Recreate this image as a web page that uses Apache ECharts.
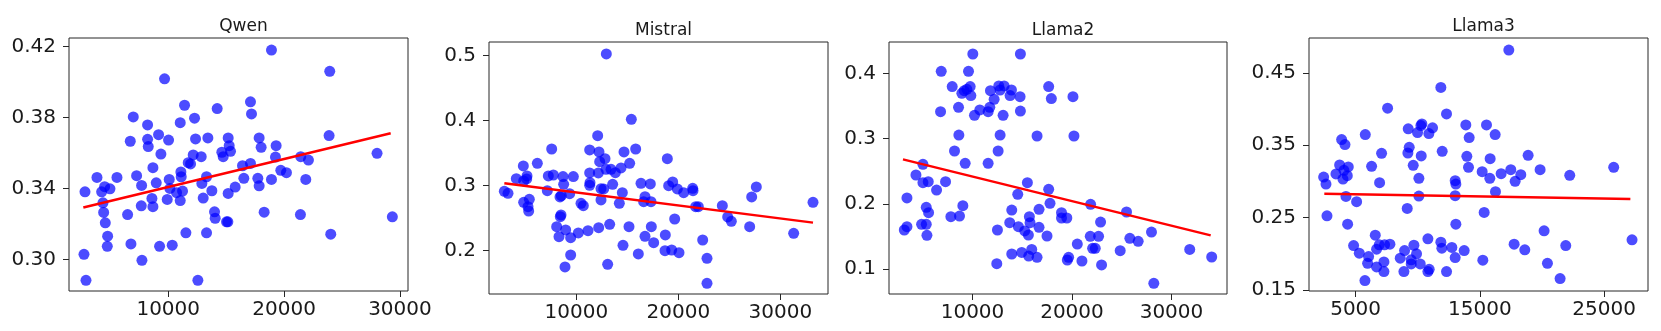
<!DOCTYPE html>
<html>
<head>
<meta charset="utf-8">
<script src="https://cdn.jsdelivr.net/npm/echarts@6/dist/echarts.min.js"></script>
<style>
html,body{margin:0;padding:0;background:#fff;}
#chart{width:1661px;height:331px;}
</style>
</head>
<body>
<div id="chart"></div>
<script>
// ---- Data ----
const titles = ["Qwen", "Mistral", "Llama2", "Llama3"];

const qwenX = [18911,23940,9685,17100,11410,14226,17187,6984,12272,11036,8220,9168,23883,6725,8220,10030,12358,13422,15175,17848,8277,15261,19313,18020,9369,14629,12157,12847,14744,15376,28022,21440,19256,22101,11726,11927,16411,17100,19716,20204,8679,11094,11122,13307,3851,5576,7271,16526,17733,18911,21871,10088,8967,12904,17848,15778,7702,4512,4972,4254,2817,10145,10720,11237,13766,15175,8593,9915,11036,13019,4368,7674,8679,4426,6495,13996,14054,18279,21411,29344,4570,15031,15146,4771,11525,13307,24027,4742,6783,9254,10346,2730,7731,2903,12559];
const qwenY = [0.4181,0.4061,0.4019,0.3889,0.3870,0.3851,0.3821,0.3804,0.3797,0.3772,0.3759,0.3704,0.3699,0.3667,0.3678,0.3674,0.3680,0.3686,0.3686,0.3686,0.3637,0.3642,0.3642,0.3633,0.3595,0.3605,0.3590,0.3580,0.3580,0.3610,0.3599,0.3580,0.3578,0.3561,0.3546,0.3539,0.3529,0.3542,0.3503,0.3490,0.3518,0.3494,0.3467,0.3467,0.3463,0.3463,0.3473,0.3458,0.3458,0.3452,0.3452,0.3452,0.3433,0.3429,0.3416,0.3409,0.3418,0.3411,0.3399,0.3382,0.3382,0.3401,0.3377,0.3386,0.3388,0.3373,0.3345,0.3339,0.3333,0.3347,0.3320,0.3303,0.3298,0.3266,0.3254,0.3269,0.3233,0.3267,0.3254,0.3241,0.3207,0.3213,0.3213,0.3132,0.3151,0.3151,0.3143,0.3075,0.3088,0.3075,0.3081,0.3030,0.2996,0.2883,0.2883];
const qwenTrendX = [2673, 29200];
const qwenTrendY = [0.3294, 0.3712];

const mistralX = [12941,15392,12092,7582,11307,15817,12222,14673,12810,18922,12288,15229,6177,4804,14379,12908,13399,13823,4117,5163,7255,7746,8693,9706,11307,12157,4837,5131,8758,11340,13562,16340,17255,19444,19052,19902,20523,21405,21438,27647,2941,3301,7157,11307,12418,12680,14510,8529,9346,8399,16732,27190,12418,14216,16601,17320,10458,10686,4837,5392,5261,5327,21699,21961,24314,33203,24837,25196,19641,8431,8497,13268,8072,8954,10196,11144,12190,15163,17353,26993,8301,9444,16732,17582,18725,22386,31307,14575,18693,19346,20065,16078,9444,13072,8889,22810,22810];
const mistralY = [0.5026,0.4021,0.3769,0.3564,0.3549,0.3564,0.3518,0.3518,0.3415,0.3415,0.3369,0.3344,0.3344,0.3303,0.3272,0.3251,0.3251,0.3200,0.3108,0.3149,0.3149,0.3164,0.3139,0.3139,0.3195,0.3195,0.3072,0.3103,0.3021,0.3046,0.3021,0.3036,0.3026,0.3056,0.3000,0.2949,0.2892,0.2959,0.2923,0.2980,0.2913,0.2882,0.2923,0.3005,0.2954,0.2949,0.2892,0.2846,0.2877,0.2826,0.2831,0.2826,0.2780,0.2728,0.2754,0.2754,0.2728,0.2692,0.2744,0.2790,0.2677,0.2610,0.2677,0.2677,0.2692,0.2744,0.2518,0.2451,0.2487,0.2523,0.2549,0.2405,0.2369,0.2318,0.2272,0.2308,0.2354,0.2369,0.2369,0.2369,0.2215,0.2200,0.2221,0.2123,0.2241,0.2164,0.2267,0.2082,0.2000,0.2010,0.1969,0.1949,0.1933,0.1790,0.1749,0.1882,0.1498];
const mistralTrendX = [2941, 33203];
const mistralTrendY = [0.3036, 0.2431];

const llama2X = [10033,14816,6857,9599,7960,9766,12642,13177,12776,11806,13913,9432,9164,8930,9833,13779,14782,12174,17658,17925,20099,8596,11739,10736,10201,11572,13077,14816,6790,8629,12776,16488,20199,8194,12575,9264,11572,5018,4315,5018,5553,7291,6389,15518,17658,14548,3412,17791,21871,25483,9030,5352,5586,13946,16688,7826,8696,15718,18948,18948,19483,22874,4883,5352,3145,3412,12508,13746,14615,15785,16688,15250,15618,5419,17490,21838,22674,27991,25817,26653,20534,22072,22339,24847,31836,13946,14949,15952,15651,16488,19664,19531,21002,34044,12441,22975,28225];
const llama2Y = [0.4296,0.4296,0.4031,0.4031,0.3796,0.3796,0.3806,0.3806,0.3744,0.3734,0.3744,0.3755,0.3734,0.3693,0.3658,0.3658,0.3642,0.3601,0.3796,0.3612,0.3642,0.3479,0.3479,0.3438,0.3356,0.3412,0.3356,0.3422,0.3412,0.3054,0.3054,0.3039,0.3039,0.2809,0.2809,0.2620,0.2620,0.2605,0.2441,0.2324,0.2339,0.2339,0.2211,0.2324,0.2221,0.2145,0.2089,0.2007,0.1991,0.1874,0.1971,0.1945,0.1864,0.1904,0.1915,0.1802,0.1812,0.1802,0.1864,0.1782,0.1782,0.1720,0.1685,0.1685,0.1598,0.1649,0.1598,0.1710,0.1649,0.1710,0.1639,0.1583,0.1521,0.1516,0.1506,0.1501,0.1501,0.1567,0.1470,0.1424,0.1383,0.1317,0.1317,0.1281,0.1301,0.1230,0.1255,0.1301,0.1199,0.1179,0.1179,0.1138,0.1123,0.1184,0.1082,0.1062,0.0780];
const llama2TrendX = [3011, 33943];
const llama2TrendY = [0.2681, 0.1516];

const llama3X = [17333,11863,7574,12319,10335,10255,11193,9236,9987,10898,13874,15536,14142,16233,5777,3874,4142,9316,9209,7091,11971,10282,13954,15831,18888,3713,4410,6287,9638,14088,25778,2426,2614,3418,4061,4330,3981,6930,10094,13016,13070,15188,15804,16716,17493,18298,17842,19853,22239,16260,4222,5080,10094,13016,9155,15349,2694,4357,13070,20175,27253,6582,4839,5295,6046,5965,6689,6903,7332,7761,6689,7279,7279,5751,8593,8941,9692,9906,9477,9477,10202,8888,10818,10925,10818,11863,11943,12319,12748,13016,13740,15241,17761,18619,20443,21462,21918];
const llama3Y = [0.4814,0.4297,0.4011,0.3932,0.3794,0.3771,0.3739,0.3725,0.3674,0.3660,0.3780,0.3780,0.3605,0.3646,0.3646,0.3577,0.3508,0.3471,0.3392,0.3388,0.3415,0.3351,0.3346,0.3314,0.3360,0.3226,0.3199,0.3208,0.3222,0.3194,0.3194,0.3060,0.2963,0.3102,0.3152,0.3079,0.3032,0.2982,0.3042,0.3009,0.2963,0.3134,0.3042,0.3106,0.3162,0.3092,0.3000,0.3162,0.3083,0.2857,0.2792,0.2719,0.2797,0.2802,0.2626,0.2571,0.2525,0.2409,0.2409,0.2317,0.2193,0.2257,0.2114,0.2008,0.1962,0.1869,0.2063,0.2123,0.2123,0.2132,0.1819,0.1888,0.1754,0.1630,0.1939,0.2045,0.2118,0.1999,0.1916,0.1860,0.1860,0.1754,0.2206,0.1786,0.1754,0.2160,0.2077,0.1754,0.2087,0.1948,0.2045,0.1911,0.2132,0.2054,0.1869,0.1657,0.2114];
const llama3TrendX = [2480, 27118];
const llama3TrendY = [0.2829, 0.2755];

// tick labels
const qwenXTicks = [10000, 20000, 30000];
const qwenYTicks = [0.30, 0.34, 0.38, 0.42];
const mistralXTicks = [10000, 20000, 30000];
const mistralYTicks = [0.2, 0.3, 0.4, 0.5];
const llama2XTicks = [10000, 20000, 30000];
const llama2YTicks = [0.1, 0.2, 0.3, 0.4];
const llama3XTicks = [5000, 15000, 25000];
const llama3YTicks = [0.15, 0.25, 0.35, 0.45];

// ---- Layout (pixels) ----
const panels = [
  {xs: qwenX, ys: qwenY, tx: qwenTrendX, ty: qwenTrendY, xt: qwenXTicks, yt: qwenYTicks, dec: 2,
   left: 69, top: 38, width: 339, height: 253, xmin: 1437, xmax: 30694, ymin: 0.2823, ymax: 0.4249},
  {xs: mistralX, ys: mistralY, tx: mistralTrendX, ty: mistralTrendY, xt: mistralXTicks, yt: mistralYTicks, dec: 1,
   left: 489, top: 42, width: 339, height: 252, xmin: 1438, xmax: 34673, ymin: 0.1333, ymax: 0.5210},
  {xs: llama2X, ys: llama2Y, tx: llama2TrendX, ty: llama2TrendY, xt: llama2XTicks, yt: llama2YTicks, dec: 1,
   left: 889, top: 42, width: 338, height: 252, xmin: 1607, xmax: 35582, ymin: 0.0617, ymax: 0.4480},
  {xs: llama3X, ys: llama3Y, tx: llama3TrendX, ty: llama3TrendY, xt: llama3XTicks, yt: llama3YTicks, dec: 2,
   left: 1309, top: 38, width: 339, height: 253, xmin: 1247, xmax: 28539, ymin: 0.1486, ymax: 0.4980}
];

const FONT = "DejaVu Sans";
const grid = [], xAxis = [], yAxis = [], series = [], title = [];

panels.forEach((p, i) => {
  grid.push({left: p.left, top: p.top, width: p.width, height: p.height,
    show: true, borderColor: '#262626', borderWidth: 1, backgroundColor: '#fff'});
  title.push({text: titles[i], left: p.left + p.width / 2, top: p.top - 25, textAlign: 'center',
    textStyle: {fontFamily: FONT, fontSize: 17, fontWeight: 'normal', color: '#1a1a1a'}});
  xAxis.push({type: 'value', gridIndex: i, min: p.xmin, max: p.xmax,
    axisLine: {show: false}, splitLine: {show: false},
    axisTick: {show: true, length: 6, customValues: p.xt, lineStyle: {color: '#262626', width: 1}},
    axisLabel: {customValues: p.xt, margin: 9, fontFamily: FONT, fontSize: 20, color: '#1a1a1a',
      formatter: v => String(Math.round(v))}});
  yAxis.push({type: 'value', gridIndex: i, min: p.ymin, max: p.ymax,
    axisLine: {show: false}, splitLine: {show: false},
    axisTick: {show: true, length: 6, customValues: p.yt, lineStyle: {color: '#262626', width: 1}},
    axisLabel: {customValues: p.yt, margin: 13, fontFamily: FONT, fontSize: 20, color: '#1a1a1a',
      formatter: v => v.toFixed(p.dec)}});
  series.push({type: 'scatter', xAxisIndex: i, yAxisIndex: i, symbol: 'circle', symbolSize: 11,
    itemStyle: {color: '#0000ff', opacity: 0.7}, emphasis: {disabled: true}, silent: true, z: 2,
    data: p.xs.map((x, k) => [x, p.ys[k]])});
  series.push({type: 'line', xAxisIndex: i, yAxisIndex: i, showSymbol: false, symbol: 'none',
    lineStyle: {color: '#ff0000', width: 2.5}, silent: true, z: 3,
    data: p.tx.map((x, k) => [x, p.ty[k]])});
});

const chart = echarts.init(document.getElementById('chart'), null, {renderer: 'canvas'});
chart.setOption({animation: false, backgroundColor: '#fff', title, grid, xAxis, yAxis, series});
</script>
</body>
</html>
